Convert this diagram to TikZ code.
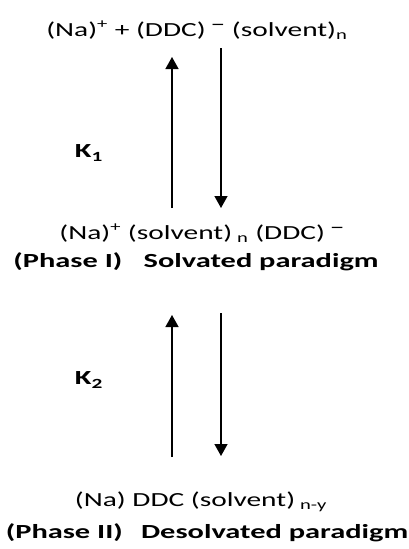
\documentclass[tikz,border=0pt]{standalone}
\usepackage{fontspec}
\setmainfont{Carlito}
\usetikzlibrary{arrows.meta}
\newcommand{\chg}[1]{\textsuperscript{#1}}
\newcommand{\ionneg}{\raisebox{0.55ex}{\textendash}}

\begin{document}
\begin{tikzpicture}[x=1pt,y=-1pt,
    lbl/.style={font=\fontsize{20}{24}\selectfont,inner sep=0pt,xscale=1.47},
    hdr/.style={font=\fontsize{20}{24}\selectfont\bfseries,inner sep=0pt,xscale=1.52},
    eq/.style={line width=1.4pt,-{Triangle[width=13pt,length=12pt]}}]
    \useasboundingbox (0,0) rectangle (409,549);
    % species
    \node[lbl] (top) at (197,30) {(Na)\chg{+} + (DDC)\,\ionneg\ (solvent)\textsubscript{n}};
    \node[lbl] (mid) at (202,233) {(Na)\chg{+} (solvent)\,\textsubscript{n} (DDC)\,\ionneg};
    \node[lbl] (bot) at (201,502) {(Na) DDC (solvent)\,\textsubscript{n-y}};
    \node[hdr] (ph1) at (196,262) {(Phase I)\hspace{0.7em}Solvated paradigm};
    \node[hdr] (ph2) at (207,533) {(Phase II)\hspace{0.6em}Desolvated paradigm};
    \node[hdr] (k1) at (89,153) {K\textsubscript{1}};
    \node[hdr] (k2) at (89,380) {K\textsubscript{2}};
    % arrow ends
    \coordinate (a1) at (172,208); \coordinate (b1) at (172,57);
    \coordinate (c1) at (221,48);  \coordinate (d1) at (221,208);
    \coordinate (a2) at (172,457); \coordinate (b2) at (172,315);
    \coordinate (c2) at (221,313); \coordinate (d2) at (221,456);
    \draw[eq] (a1) -- (b1);
    \draw[eq] (c1) -- (d1);
    \draw[eq] (a2) -- (b2);
    \draw[eq] (c2) -- (d2);
\end{tikzpicture}
\end{document}
